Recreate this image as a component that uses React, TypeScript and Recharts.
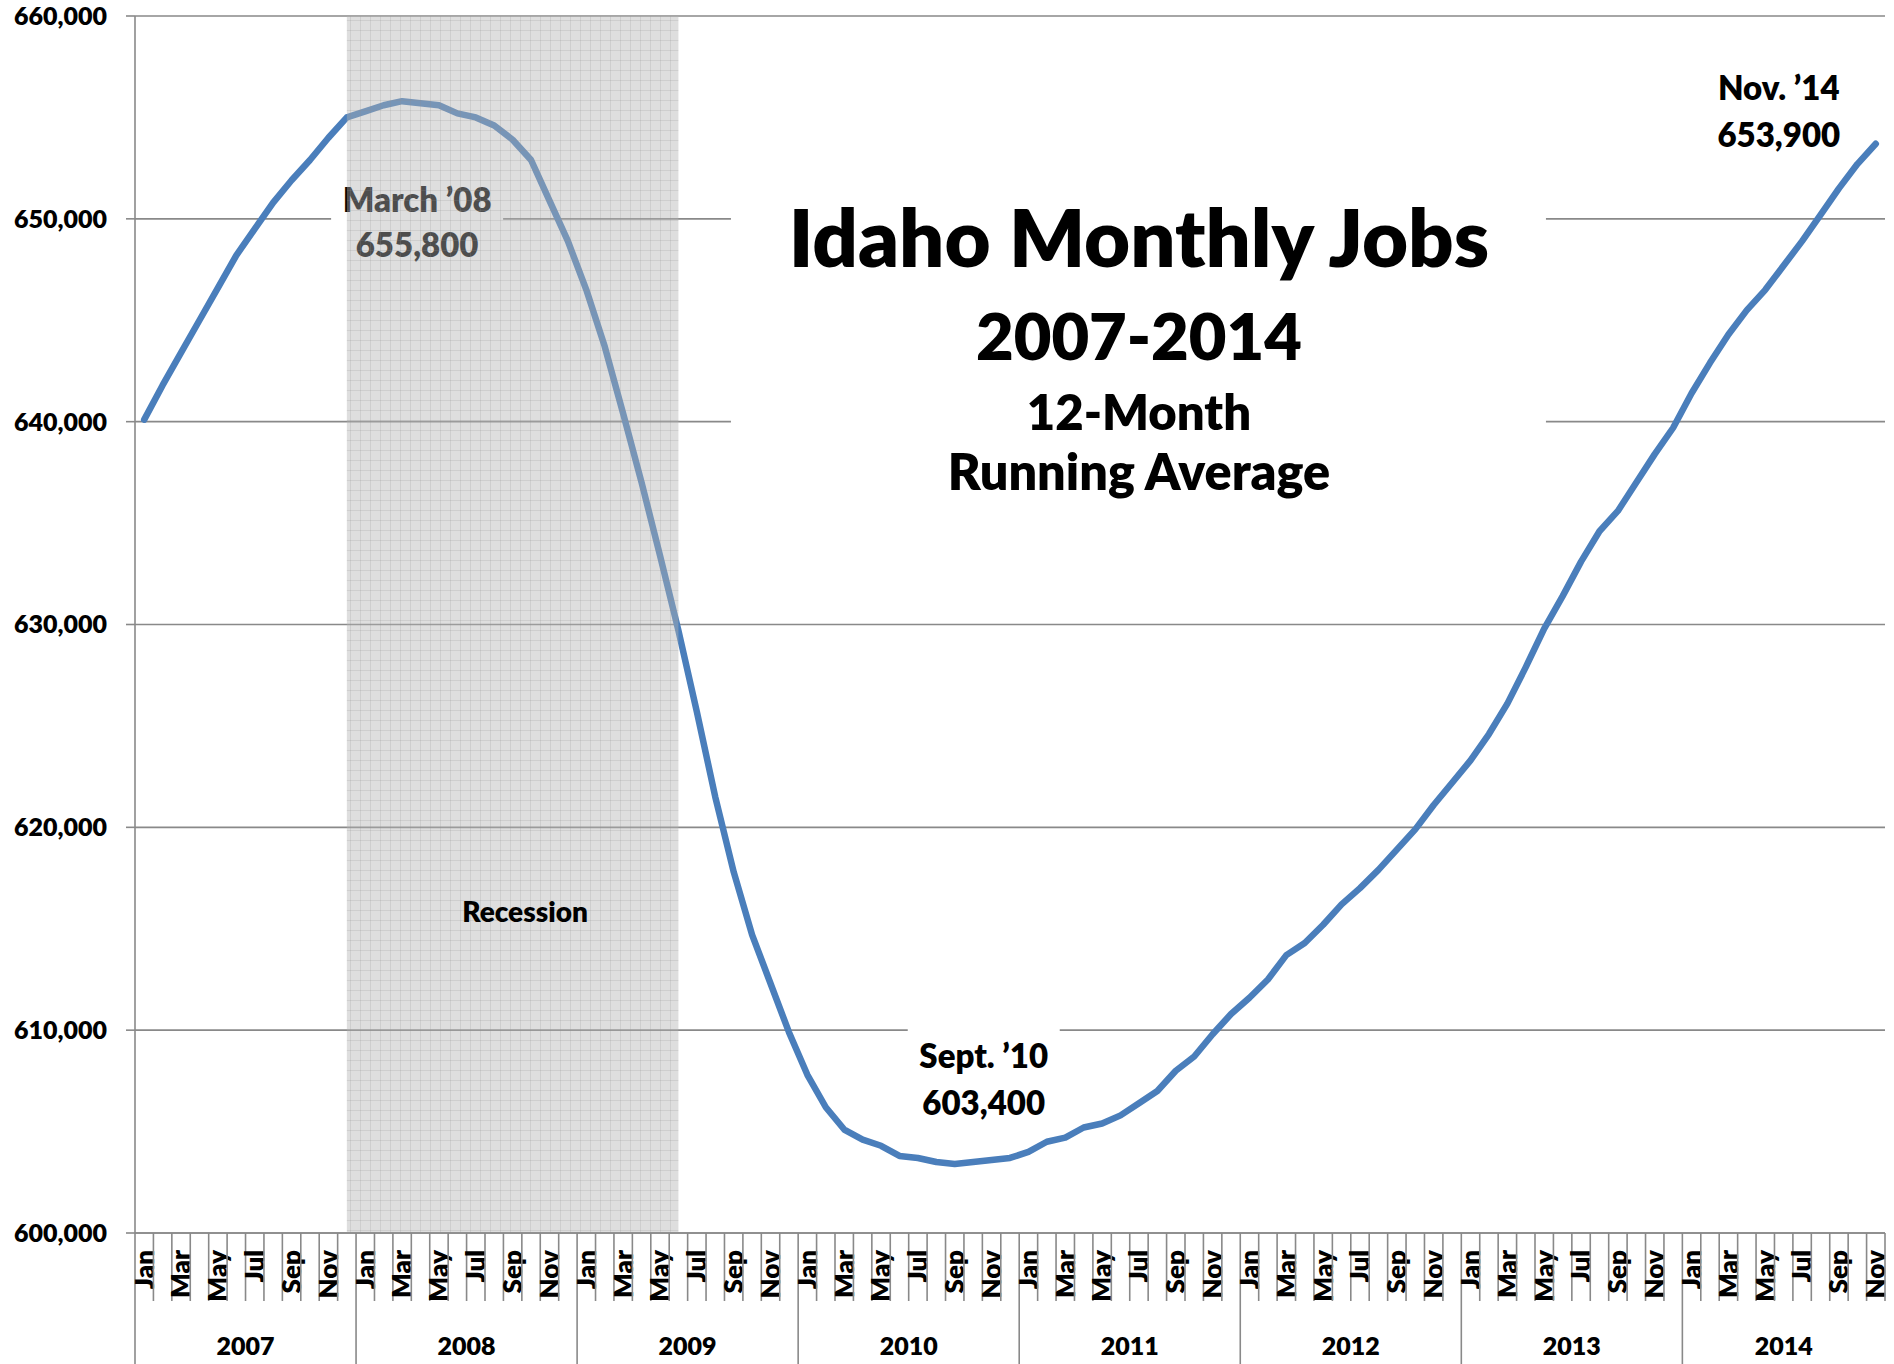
import React from 'react';
import { LineChart, Line, XAxis, YAxis, CartesianGrid, ReferenceArea, ReferenceDot } from 'recharts';

const years = [2007, 2008, 2009, 2010, 2011, 2012, 2013, 2014];
const monthNames = ['Jan', 'Feb', 'Mar', 'Apr', 'May', 'Jun', 'Jul', 'Aug', 'Sep', 'Oct', 'Nov', 'Dec'];

const jobs2007 = [640100, 641800, 643400, 645000, 646600, 648200, 649500, 650800, 651900, 652900, 654000, 655000];
const jobs2008 = [655300, 655600, 655800, 655700, 655600, 655200, 655000, 654600, 653900, 652900, 650900, 648900];
const jobs2009 = [646500, 643700, 640400, 637000, 633400, 629700, 625700, 621500, 617800, 614700, 612300, 609900];
const jobs2010 = [607800, 606200, 605100, 604600, 604300, 603800, 603700, 603500, 603400, 603500, 603600, 603700];
const jobs2011 = [604000, 604500, 604700, 605200, 605400, 605800, 606400, 607000, 608000, 608700, 609800, 610800];
const jobs2012 = [611600, 612500, 613700, 614300, 615200, 616200, 617000, 617900, 618900, 619900, 621100, 622200];
const jobs2013 = [623300, 624600, 626100, 627900, 629800, 631400, 633100, 634600, 635600, 637000, 638400, 639700];
const jobs2014 = [641400, 642900, 644300, 645500, 646500, 647700, 648900, 650200, 651500, 652700, 653700];
const jobsByYear = [jobs2007, jobs2008, jobs2009, jobs2010, jobs2011, jobs2012, jobs2013, jobs2014];

const yTicks = [600000, 610000, 620000, 630000, 640000, 650000, 660000];

const titleLines = ['Idaho Monthly Jobs', '2007-2014', '12-Month', 'Running Average'];
const peakLabel = ['March \u201908', '655,800'];
const troughLabel = ['Sept. \u201910', '603,400'];
const lastLabel = ['Nov. \u201914', '653,900'];
const recessionLabel = 'Recession';

// Build chart table
type Row = { idx: number; year: number; month: number; label: string; jobs: number };
const data: Row[] = [];
jobsByYear.forEach((arr, yi) => {
  arr.forEach((v, mi) => {
    data.push({ idx: data.length, year: years[yi], month: mi, label: `${monthNames[mi]} ${years[yi]}`, jobs: v });
  });
});
const findIdx = (label: string) => data.findIndex((d) => d.label === label);
const recessionStart = findIdx('Dec 2007');
const recessionEnd = findIdx('Jun 2009');
const peakIdx = findIdx('Mar 2008');
const troughIdx = findIdx('Sep 2010');
const lastIdx = data.length - 1;

const yearCenters = years.map((y) => {
  const rows = data.filter((d) => d.year === y);
  return { year: y, center: (rows[0].idx + rows[rows.length - 1].idx) / 2 };
});

const xTicks: number[] = [];
for (let i = 0; i <= data.length; i++) {
  xTicks.push(i - 0.5);
  if (i < data.length) xTicks.push(i);
}

const FONT = 'Lato, "Open Sans", sans-serif';
const WEIGHT = 800;
const AXIS = '#898989';
const W = 1894;
const H = 1364;

const MonthTick = (props: any) => {
  const { x, y, payload } = props;
  const v: number = payload.value;
  const isBoundary = Math.abs(v - Math.round(v)) > 0.1;
  const parts: React.ReactNode[] = [];
  if (isBoundary) {
    const m = Math.round(v + 0.5);
    const long = m % 12 === 0 && m < data.length;
    parts.push(<line key="l" x1={x} x2={x} y1={y} y2={y + (long ? 131 : 68)} stroke={AXIS} strokeWidth={1.6} />);
  } else {
    const d = data[Math.round(v)];
    if (d && d.month % 2 === 0) {
      const ty = y + 17;
      parts.push(
        <text key="m" x={x} y={ty} dy="0.36em" transform={`rotate(-90 ${x} ${ty})`} textAnchor="end"
          fontFamily={FONT} fontWeight={WEIGHT} fontSize={26} fill="#000">{monthNames[d.month]}</text>
      );
    }
  }
  const yc = yearCenters.find((c) => Math.abs(c.center - v) < 0.01);
  if (yc) {
    parts.push(
      <text key="y" x={x} y={y + 122} textAnchor="middle" fontFamily={FONT} fontWeight={WEIGHT} fontSize={25} fill="#000">{yc.year}</text>
    );
  }
  return <g>{parts}</g>;
};

const TwoLineBox = (lines: string[], dx: number, dys: number[], box: [number, number, number, number] | null, fontSize: number) =>
  (p: any) => {
    const { cx, cy } = p;
    return (
      <g>
        {box && <rect x={cx + box[0]} y={cy + box[1]} width={box[2] - box[0]} height={box[3] - box[1]} fill="#fff" />}
        {lines.map((t, i) => (
          <text key={i} x={cx + dx} y={cy + dys[i]} textAnchor="middle" fontFamily={FONT} fontWeight={WEIGHT} fontSize={fontSize} fill="#000">{t}</text>
        ))}
      </g>
    );
  };

const TitleShape = (p: any) => {
  const { cx, cy } = p;
  const sizes = [79.5, 65, 49, 50.3];
  const dys = [48, 141, 211, 271];
  return (
    <g>
      <rect x={cx - 408} y={cy - 69} width={815} height={360} fill="#fff" />
      {titleLines.map((t, i) => (
        <text key={i} x={cx} y={cy + dys[i]} textAnchor="middle" fontFamily={FONT} fontWeight={WEIGHT} fontSize={sizes[i]} fill="#000">{t}</text>
      ))}
    </g>
  );
};

const RecessionShape = (p: any) => {
  const { cx, cy } = p;
  return (
    <text x={cx - 6} y={cy - 7} textAnchor="middle" fontFamily={FONT} fontWeight={WEIGHT} fontSize={28} fill="#000">{recessionLabel}</text>
  );
};

export default function App() {
  return (
    <div style={{ position: 'absolute', left: 0, top: 0, width: W, height: H, background: '#fff' }}>
      <LineChart width={W} height={H} data={data} margin={{ top: 16, right: 9, bottom: 0, left: 0 }}>
        <defs>
          <pattern id="recGrid" width="10" height="10" patternUnits="userSpaceOnUse">
            <rect width="10" height="10" fill="#b2b2b2" fillOpacity={0.43} />
            <path d="M0 0.5H10M0.5 0V10" stroke="#8a8a8a" strokeOpacity={0.2} strokeWidth={1} />
          </pattern>
        </defs>
        <CartesianGrid horizontal vertical={false} stroke={AXIS} strokeWidth={1.6} />
        <XAxis
          dataKey="idx"
          type="number"
          domain={[-0.5, data.length - 0.5]}
          ticks={xTicks}
          interval={0}
          height={131}
          tickSize={0}
          tickMargin={0}
          tickLine={false}
          axisLine={{ stroke: AXIS, strokeWidth: 1.6 }}
          tick={(p: any) => <MonthTick {...p} />}
          allowDataOverflow
        />
        <YAxis
          type="number"
          domain={[600000, 660000]}
          ticks={yTicks}
          interval={0}
          width={135}
          tickSize={9}
          tickMargin={19}
          axisLine={{ stroke: AXIS, strokeWidth: 1.6 }}
          tickLine={{ stroke: AXIS, strokeWidth: 1.6 }}
          tick={{ fill: '#000', fontSize: 25, fontWeight: WEIGHT, fontFamily: FONT }}
          tickFormatter={(v: number) => v.toLocaleString('en-US')}
        />
        <ReferenceDot x={54} y={650000} r={0} zIndex={50} shape={TitleShape} />
        <ReferenceDot x={peakIdx} y={data[peakIdx].jobs} r={0} zIndex={50}
          shape={TwoLineBox(peakLabel, 15, [111, 156], [-71, 79, 101, 169], 33)} />
        <ReferenceDot x={troughIdx} y={data[troughIdx].jobs} r={0} zIndex={50}
          shape={TwoLineBox(troughLabel, 29, [-96, -49], [-47, -139, 105, -39], 33)} />
        <ReferenceDot x={lastIdx} y={data[lastIdx].jobs} r={0} zIndex={50}
          shape={TwoLineBox(lastLabel, -97, [-44, 3], null, 33)} />
        <Line
          type="linear"
          dataKey="jobs"
          stroke="#4a7ebb"
          strokeWidth={6.5}
          strokeLinejoin="round"
          strokeLinecap="round"
          dot={false}
          activeDot={false}
          isAnimationActive={false}
          zIndex={400}
        />
        <ReferenceArea x1={recessionStart} x2={recessionEnd} fill="url(#recGrid)" fillOpacity={1} stroke="none" zIndex={450} />
        <ReferenceDot x={21} y={615000} r={0} zIndex={2000} shape={RecessionShape} />
      </LineChart>
    </div>
  );
}
